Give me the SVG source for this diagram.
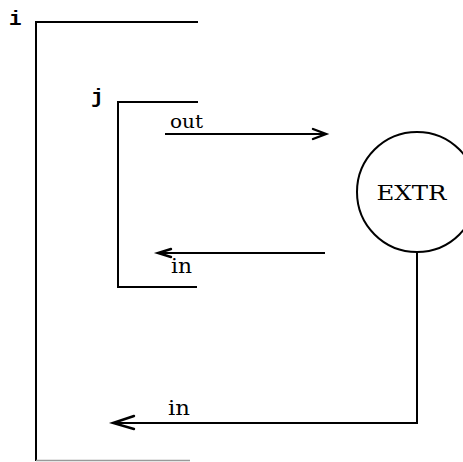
<svg xmlns="http://www.w3.org/2000/svg" width="463" height="462" viewBox="0 0 463 462">
<style>
.ln{fill:none;stroke:#000;stroke-width:2;stroke-linecap:square}
.ar{fill:none;stroke:#000;stroke-width:2.4;stroke-linecap:round;stroke-linejoin:miter}
.mono{font-family:"Liberation Mono","DejaVu Sans Mono",monospace;font-size:21px;font-weight:bold;fill:#000}
.ser{font-family:"DejaVu Serif","Liberation Serif",serif;fill:#000}
</style>
<rect width="463" height="462" fill="#fff"/>
<g id="node-i">
<path class="ln" d="M197,22 H36 V460"/>
<path d="M36,460.5 H190" fill="none" stroke="#999" stroke-width="1.5"/>
<text class="mono" x="9" y="25">i</text>
</g>
<g id="node-j">
<path class="ln" d="M197,102 H118 V287 H196"/>
<text class="mono" x="91" y="103">j</text>
</g>
<g id="node-extr">
<circle cx="417" cy="192" r="60" fill="none" stroke="#000" stroke-width="2"/>
<text class="ser" x="411.5" y="200" font-size="21" text-anchor="middle" textLength="70" lengthAdjust="spacingAndGlyphs">EXTR</text>
</g>
<g id="connectors">
<path class="ln" d="M166,134 H325"/>
<path class="ar" d="M313,129 L326,134 L313,139"/>
<text class="ser" x="170" y="128" font-size="19" textLength="33" lengthAdjust="spacingAndGlyphs">out</text>
<path class="ln" d="M160,253 H324"/>
<path class="ar" d="M171,249 L158,253 L171,257"/>
<text class="ser" x="171" y="273" font-size="20" textLength="21" lengthAdjust="spacingAndGlyphs">in</text>
<path class="ln" d="M417,252 V423 H115"/>
<path class="ar" d="M134,416 L113,423 L134,429"/>
<text class="ser" x="168" y="415" font-size="20" textLength="22" lengthAdjust="spacingAndGlyphs">in</text>
</g>
</svg>
